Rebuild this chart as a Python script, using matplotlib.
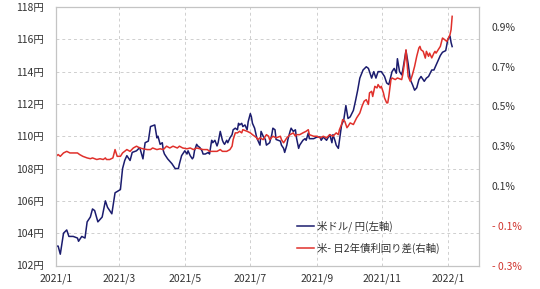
import datetime as dt
import matplotlib
matplotlib.use("Agg")
import matplotlib.pyplot as plt
import matplotlib.dates as mdates
from matplotlib.ticker import FuncFormatter, MultipleLocator
from matplotlib.lines import Line2D

plt.rcParams['font.family'] = ['Noto Sans CJK JP', 'DejaVu Sans']

start = dt.date(2021, 1, 1)

# USD/JPY (left axis), days counted from 2021-01-01
usd_days = [0, 2, 4, 7, 10, 12, 16, 20, 21, 24, 27, 29, 32, 34, 36, 39, 43, 46, 48, 52,
            55, 60, 62, 64, 66, 69, 71, 75, 78, 81, 83, 86, 88, 92, 94, 95, 97, 99, 100, 101,
            104, 108, 111, 114, 115, 117, 118, 120, 122, 123, 125, 127, 128, 129, 131, 132, 134, 136, 137, 139,
            142, 143, 145, 146, 148, 150, 151, 153, 155, 156, 157, 159, 160, 162, 164, 165, 167, 169, 170, 171,
            173, 174, 176, 178, 179, 181, 182, 183, 185, 187, 190, 191, 193, 195, 196, 199, 201, 202, 204, 205,
            209, 210, 212, 213, 215, 216, 218, 219, 221, 223, 224, 226, 227, 229, 230, 232, 233, 235, 236, 240,
            243, 246, 247, 249, 252, 255, 257, 258, 260, 261, 263, 266, 268, 270, 272, 274, 277, 279, 281, 283,
            286, 289, 291, 294, 296, 298, 300, 303, 306, 308, 310, 313, 315, 317, 318, 320, 322, 323, 326, 328,
            330, 332, 334, 336, 338, 340, 343, 345, 347, 350, 352, 354, 356, 358, 360, 363, 365, 367, 368, 369]
usd_jpy = [103.2, 103.2, 102.7, 104.0, 104.2, 103.8, 103.8, 103.7, 103.5, 103.8, 103.7, 104.7, 105.0, 105.5, 105.4, 104.7, 105.0, 106.0, 105.6, 105.2,
           106.5, 106.7, 108.0, 108.5, 108.8, 108.5, 109.0, 109.1, 109.3, 108.6, 109.6, 109.7, 110.6, 110.7, 109.9, 110.0, 109.5, 109.6, 109.1, 108.9,
           108.6, 108.3, 108.0, 108.0, 108.3, 108.8, 108.9, 109.1, 108.9, 109.1, 108.8, 108.6, 108.7, 109.1, 109.5, 109.4, 109.3, 109.1, 108.9, 108.9,
           109.0, 108.9, 109.75, 109.6, 109.75, 109.4, 109.6, 110.3, 109.75, 109.6, 109.5, 109.75, 109.6, 109.9, 110.1, 110.4, 110.5, 110.4, 110.8, 110.7,
           110.8, 110.6, 110.7, 110.4, 110.9, 111.4, 111.2, 110.8, 110.5, 109.9, 109.45, 110.3, 110.0, 109.8, 109.45, 109.6, 110.1, 110.5, 110.4, 109.8,
           109.7, 109.45, 109.25, 109.0, 109.45, 109.8, 110.3, 110.5, 110.3, 110.4, 109.9, 109.25, 109.45, 109.65, 109.75, 109.85, 109.75, 110.2, 109.85, 109.85,
           109.95, 109.95, 109.75, 109.95, 109.75, 110.1, 109.6, 110.1, 109.7, 109.45, 109.25, 110.7, 111.0, 111.9, 111.1, 111.2, 111.6, 112.2, 112.85, 113.6,
           114.1, 114.3, 114.2, 113.6, 114.0, 113.6, 114.0, 114.0, 113.7, 113.3, 113.2, 114.0, 114.2, 113.9, 114.8, 114.0, 113.8, 114.1, 115.3, 114.5,
           113.5, 113.2, 112.85, 113.0, 113.5, 113.7, 113.4, 113.6, 113.7, 114.1, 114.1, 114.4, 114.7, 115.0, 115.2, 115.3, 116.0, 116.2, 115.8, 115.55]

# US-Japan 2y yield spread in % (right axis)
spr_days = [0, 2, 4, 7, 10, 13, 16, 20, 22, 25, 29, 32, 34, 38, 41, 44, 46, 47, 50, 53,
            55, 57, 60, 62, 66, 69, 72, 75, 78, 81, 85, 88, 90, 94, 97, 100, 103, 106, 109, 113,
            115, 118, 122, 125, 128, 131, 134, 137, 141, 143, 146, 150, 153, 155, 159, 162, 164, 165, 167, 169,
            171, 173, 174, 178, 181, 183, 187, 188, 190, 193, 196, 198, 199, 202, 205, 209, 210, 212, 215, 218,
            221, 223, 224, 227, 230, 233, 235, 236, 240, 243, 246, 249, 252, 255, 258, 261, 263, 264, 266, 267,
            269, 271, 272, 274, 277, 280, 283, 285, 287, 289, 291, 292, 294, 295, 297, 299, 300, 302, 303, 305,
            306, 308, 309, 310, 312, 313, 316, 318, 322, 323, 325, 326, 328, 330, 332, 334, 336, 338, 339, 340,
            342, 344, 345, 347, 348, 350, 352, 353, 354, 356, 358, 360, 362, 364, 367, 368, 369]
spread = [0.249, 0.258, 0.249, 0.266, 0.274, 0.266, 0.266, 0.266, 0.258, 0.249, 0.241, 0.237, 0.241, 0.233, 0.237, 0.233, 0.241, 0.233, 0.233, 0.241,
          0.283, 0.249, 0.249, 0.266, 0.283, 0.274, 0.291, 0.300, 0.291, 0.287, 0.283, 0.283, 0.291, 0.283, 0.287, 0.283, 0.300, 0.291, 0.300, 0.291,
          0.300, 0.291, 0.287, 0.291, 0.283, 0.291, 0.287, 0.283, 0.283, 0.274, 0.274, 0.274, 0.283, 0.274, 0.274, 0.283, 0.300, 0.333, 0.367, 0.367,
          0.375, 0.367, 0.383, 0.375, 0.367, 0.358, 0.342, 0.333, 0.342, 0.333, 0.358, 0.350, 0.333, 0.350, 0.342, 0.350, 0.333, 0.317, 0.342, 0.358,
          0.367, 0.350, 0.358, 0.358, 0.367, 0.375, 0.383, 0.358, 0.350, 0.350, 0.342, 0.350, 0.342, 0.358, 0.350, 0.367, 0.358, 0.383, 0.409, 0.434,
          0.425, 0.393, 0.400, 0.417, 0.409, 0.442, 0.467, 0.500, 0.526, 0.534, 0.510, 0.568, 0.576, 0.550, 0.601, 0.593, 0.610, 0.593, 0.601, 0.568,
          0.543, 0.518, 0.518, 0.551, 0.635, 0.643, 0.635, 0.643, 0.635, 0.660, 0.735, 0.785, 0.651, 0.626, 0.660, 0.701, 0.752, 0.794, 0.802, 0.785,
          0.777, 0.743, 0.777, 0.752, 0.768, 0.744, 0.768, 0.777, 0.768, 0.785, 0.802, 0.844, 0.836, 0.827, 0.861, 0.886, 0.953]

usd_dates = [start + dt.timedelta(days=d) for d in usd_days]
spr_dates = [start + dt.timedelta(days=d) for d in spr_days]

NAVY = "#1b1c6e"
RED = "#e0302b"
TXT = "#333333"
GRID = "#cfcfcf"

fig = plt.figure(figsize=(5.4, 2.89), dpi=100)
ax = fig.add_axes([56 / 540, 1 - 265.5 / 289, 423 / 540, 258.5 / 289])
ax2 = ax.twinx()

ax.plot(usd_dates, usd_jpy, color=NAVY, lw=1.1)
ax2.plot(spr_dates, spread, color=RED, lw=1.1)

ax.set_xlim(dt.date(2021, 1, 1), dt.date(2022, 1, 30))
ax.set_ylim(102, 118)
ax2.set_ylim(-0.3, 1.0)

ax.yaxis.set_major_locator(MultipleLocator(2))
ax.yaxis.set_major_formatter(FuncFormatter(lambda v, p: f"{int(round(v))}円"))
ax2.set_yticks([-0.3, -0.1, 0.1, 0.3, 0.5, 0.7, 0.9])


def pct(v, p):
    if v < 0:
        return f"- {abs(v):.1f}%"
    return f"{v:.1f}%"


ax2.yaxis.set_major_formatter(FuncFormatter(pct))

ax.xaxis.set_major_locator(mdates.MonthLocator(bymonth=[1, 3, 5, 7, 9, 11]))
ax.xaxis.set_major_formatter(FuncFormatter(
    lambda v, p: f"{mdates.num2date(v).year}/{mdates.num2date(v).month}"))

ax.grid(True, color=GRID, ls=(0, (3, 3)), lw=0.7)
ax.tick_params(axis="both", length=0, labelsize=7.5, colors=TXT)
ax.tick_params(axis="y", pad=9)
ax.tick_params(axis="x", pad=6)
ax2.tick_params(axis="y", length=0, labelsize=7.5, colors=TXT, pad=9)
for lab, v in zip(ax2.get_yticklabels(), ax2.get_yticks()):
    if v < 0:
        lab.set_color("#d0332d")

for a in (ax, ax2):
    for s in a.spines.values():
        s.set_color("#c4c4c4")
        s.set_linewidth(0.8)

handles = [Line2D([], [], color=NAVY, lw=1.1), Line2D([], [], color=RED, lw=1.1)]
ax2.legend(handles, ["米ドル/ 円(左軸)", "米- 日2年債利回り差(右軸)"],
           loc="center left", bbox_to_anchor=(0.57, 0.11), frameon=False,
           fontsize=7.5, handlelength=1.6, handletextpad=0.3, labelspacing=1.0,
           borderpad=0, borderaxespad=0, labelcolor=TXT)

fig.savefig("out.png", dpi=100)
